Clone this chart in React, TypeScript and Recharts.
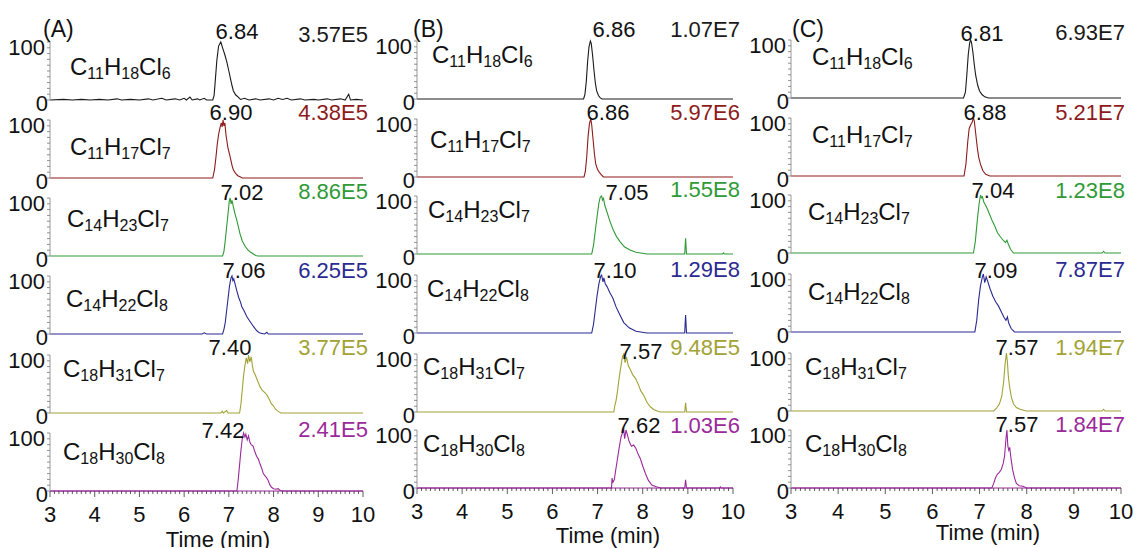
import React from 'react'
import { LineChart, Line, XAxis, YAxis } from 'recharts'

// traces: [time (min), relative abundance %]
const A1 = [[3,0],[3.3,1],[3.5,0],[3.7,1],[3.9,0],[4.1,1],[4.3,0],[4.5,2],[4.6,0],[4.8,1],[5.0,0],[5.2,2],[5.3,0],[5.5,3],[5.6,0],[5.8,2],[5.9,0],[6.0,3],[6.05,0],[6.13,5],[6.18,0],[6.3,2],[6.35,0],[6.45,3],[6.5,0],[6.64,0],[6.67,8],[6.69,27],[6.73,67],[6.77,93],[6.82,100],[6.86,90],[6.91,78],[6.95,67],[7.0,50],[7.03,39],[7.07,25],[7.1,16],[7.15,9],[7.21,5],[7.26,1],[7.35,3],[7.45,0],[7.6,2],[7.7,0],[7.9,2],[8.0,0],[8.1,3],[8.2,1],[8.3,3],[8.4,0],[8.6,2],[8.7,0],[8.9,1],[9.0,0],[9.2,2],[9.3,0],[9.5,2],[9.6,0],[9.68,10],[9.72,0],[9.85,1],[10,0]]
const A2 = [[3,0],[6.64,0],[6.68,15],[6.71,35],[6.74,58],[6.77,75],[6.8,86],[6.83,95],[6.85,88],[6.87,100],[6.89,90],[6.91,95],[6.94,72],[6.98,52],[7.03,36],[7.07,22],[7.1,14],[7.15,8],[7.2,4],[7.25,2],[7.3,0],[10,0]]
const A3 = [[3,0],[6.86,0],[6.89,8],[6.92,27],[6.95,50],[6.98,72],[7.01,95],[7.03,100],[7.05,90],[7.07,96],[7.1,85],[7.14,72],[7.18,61],[7.22,48],[7.25,38],[7.3,26],[7.37,16],[7.43,10],[7.48,7],[7.54,4],[7.6,1],[7.65,0],[10,0]]
const A4 = [[3,0],[6.4,0],[6.45,2],[6.5,0],[6.86,0],[6.89,8],[6.92,20],[6.95,40],[6.98,60],[7.01,80],[7.03,90],[7.05,97],[7.07,100],[7.09,92],[7.11,95],[7.14,86],[7.18,74],[7.22,63],[7.26,55],[7.29,47],[7.34,40],[7.4,30],[7.47,22],[7.55,13],[7.62,6],[7.68,2],[7.74,1],[7.8,0],[7.85,3],[7.88,0],[10,0]]
const A5 = [[3,0],[6.82,0],[6.85,3],[6.88,0],[6.95,4],[6.98,0],[7.24,0],[7.27,15],[7.3,40],[7.33,65],[7.36,82],[7.39,95],[7.42,85],[7.44,100],[7.47,88],[7.5,97],[7.53,80],[7.55,72],[7.59,66],[7.62,60],[7.66,52],[7.7,45],[7.74,40],[7.78,37],[7.82,34],[7.86,30],[7.9,24],[7.95,16],[8.0,12],[8.04,7],[8.08,4],[8.12,2],[8.16,0],[10,0]]
const A6 = [[3,0],[7.18,0],[7.21,20],[7.24,45],[7.27,70],[7.3,90],[7.33,100],[7.36,93],[7.38,98],[7.41,88],[7.44,95],[7.47,84],[7.5,80],[7.54,78],[7.58,68],[7.62,60],[7.66,55],[7.7,46],[7.74,38],[7.77,30],[7.81,26],[7.85,22],[7.88,18],[7.92,10],[7.96,6],[8.0,4],[8.05,3],[8.1,4],[8.15,1],[8.2,0],[10,0]]

const B1 = [[3,0],[6.69,0],[6.72,8],[6.75,30],[6.78,65],[6.81,90],[6.84,100],[6.86,96],[6.89,75],[6.92,50],[6.95,28],[6.98,14],[7.02,6],[7.06,2],[7.1,0],[10,0]]
const B2 = [[3,0],[6.7,0],[6.73,10],[6.76,35],[6.79,70],[6.82,92],[6.85,100],[6.87,90],[6.9,65],[6.93,40],[6.96,22],[7.0,13],[7.04,8],[7.08,4],[7.13,0],[10,0]]
const B3 = [[3,0],[6.87,0],[6.91,15],[6.95,40],[6.99,65],[7.03,88],[7.06,98],[7.09,100],[7.11,93],[7.13,96],[7.16,84],[7.21,72],[7.28,55],[7.35,41],[7.42,30],[7.5,21],[7.6,12],[7.72,7],[7.85,3],[8.02,1],[8.1,0],[8.93,0],[8.95,27],[8.97,0],[9.77,0],[9.79,2],[9.81,0],[10,0]]
const B4 = [[3,0],[6.87,0],[6.91,15],[6.95,40],[6.99,65],[7.03,85],[7.07,98],[7.09,100],[7.12,88],[7.14,95],[7.17,85],[7.21,80],[7.27,70],[7.34,60],[7.41,45],[7.49,32],[7.58,18],[7.7,9],[7.85,3],[8.02,1],[8.1,0],[8.93,0],[8.95,31],[8.97,0],[10,0]]
const B5 = [[3,0],[7.36,0],[7.38,10],[7.41,20],[7.44,35],[7.48,60],[7.52,80],[7.55,95],[7.58,100],[7.61,85],[7.64,95],[7.68,80],[7.72,74],[7.78,64],[7.84,58],[7.9,48],[7.96,36],[8.02,29],[8.1,16],[8.17,9],[8.25,4],[8.35,1],[8.4,0],[8.93,0],[8.95,16],[8.97,0],[10,0]]
const B6 = [[3,0],[7.31,0],[7.32,17],[7.34,10],[7.37,14],[7.4,30],[7.44,50],[7.48,70],[7.52,88],[7.55,95],[7.58,100],[7.6,85],[7.63,100],[7.66,92],[7.7,80],[7.75,72],[7.8,74],[7.85,68],[7.9,58],[7.95,50],[8.0,38],[8.06,25],[8.12,14],[8.2,5],[8.3,2],[8.4,0],[8.93,0],[8.95,14],[8.97,0],[9.7,0],[9.72,2],[9.74,0],[10,0]]

const C1 = [[3,0],[6.66,0],[6.7,10],[6.73,40],[6.76,75],[6.79,95],[6.81,100],[6.83,95],[6.86,78],[6.89,56],[6.92,38],[6.96,22],[7.0,12],[7.05,6],[7.11,2],[7.19,0],[10,0]]
const C2 = [[3,0],[6.67,0],[6.71,20],[6.75,60],[6.78,82],[6.81,88],[6.84,92],[6.87,100],[6.89,94],[6.92,72],[6.95,50],[6.98,33],[7.02,20],[7.07,9],[7.13,3],[7.22,0],[10,0]]
const C3 = [[3,0],[6.87,0],[6.91,20],[6.95,55],[6.99,85],[7.02,100],[7.04,95],[7.06,97],[7.09,88],[7.13,82],[7.17,75],[7.22,65],[7.27,55],[7.32,47],[7.38,35],[7.44,28],[7.5,22],[7.55,18],[7.58,22],[7.61,15],[7.66,6],[7.72,0],[9.6,0],[9.63,3],[9.66,0],[10,0]]
const C4 = [[3,0],[6.9,0],[6.94,20],[6.98,55],[7.02,80],[7.06,95],[7.08,100],[7.11,85],[7.14,95],[7.17,88],[7.22,75],[7.28,62],[7.34,52],[7.4,45],[7.46,35],[7.52,25],[7.56,20],[7.59,26],[7.62,15],[7.67,6],[7.74,0],[10,0]]
const C5 = [[3,0],[7.3,0],[7.36,5],[7.42,12],[7.47,25],[7.51,50],[7.54,80],[7.57,100],[7.59,85],[7.61,60],[7.64,40],[7.68,22],[7.72,12],[7.78,6],[7.86,3],[7.95,1],[8.0,0],[9.6,0],[9.63,3],[9.66,0],[10,0]]
const C6 = [[3,0],[7.26,0],[7.3,8],[7.34,18],[7.38,24],[7.42,27],[7.46,32],[7.5,42],[7.53,55],[7.56,85],[7.58,100],[7.6,72],[7.62,65],[7.64,70],[7.66,55],[7.7,32],[7.74,18],[7.78,8],[7.84,4],[7.92,3],[8.0,0],[10,0]]

const FORMULAS = [
  ['C','11','H','18','Cl','6'],
  ['C','11','H','17','Cl','7'],
  ['C','14','H','23','Cl','7'],
  ['C','14','H','22','Cl','8'],
  ['C','18','H','31','Cl','7'],
  ['C','18','H','30','Cl','8'],
]
const RT_A = ['6.84','6.90','7.02','7.06','7.40','7.42']
const RT_B = ['6.86','6.86','7.05','7.10','7.57','7.62']
const RT_C = ['6.81','6.88','7.04','7.09','7.57','7.57']
const INT_A = ['3.57E5','4.38E5','8.86E5','6.25E5','3.77E5','2.41E5']
const INT_B = ['1.07E7','5.97E6','1.55E8','1.29E8','9.48E5','1.03E6']
const INT_C = ['6.93E7','5.21E7','1.23E8','7.87E7','1.94E7','1.84E7']
const X_TICKS = [3,4,5,6,7,8,9,10]
const Y_TICKS = [0,10,20,30,40,50,60,70,80,90,100]
const X_TITLE = 'Time (min)'

const COLORS = ['#1a1a1a','#8e1b1b','#2f9a36','#2a2a92','#a2a236','#9a2a9a']
const FONT = '"Liberation Sans", Arial, sans-serif'
const H = 58

// minor ticks every 0.1 min
const X_MINOR = Array.from({length:71},(_,i)=>Math.round((3+i*0.1)*10)/10)

const PANELS = [
  { label:'(A)', lx:43, x0:50, x1:363, base:[100,178,256,334,413,491], traces:[A1,A2,A3,A4,A5,A6], rt:RT_A, inten:INT_A,
    fpos:[[70,75],[70,155],[67,227],[66,307],[63,377],[63,460]],
    rpos:[[237,39],[231,120],[242,200],[244,278],[230,355],[223,438]],
    ix:368, iy:[42,120,199,278,355,437], tx:218, ty:547, ly:522 },
  { label:'(B)', lx:413, x0:417, x1:733, base:[99,177,254,333,412,488], traces:[B1,B2,B3,B4,B5,B6], rt:RT_B, inten:INT_B,
    fpos:[[432,63],[430,148],[428,218],[427,297],[423,375],[423,452]],
    rpos:[[614,37],[608,120],[627,200],[615,278],[641,359],[639,433]],
    ix:740, iy:[37,120,197,277,355,433], tx:608, ty:543, ly:520 },
  { label:'(C)', lx:792, x0:791, x1:1121, base:[98,176,253,332,411,488], traces:[C1,C2,C3,C4,C5,C6], rt:RT_C, inten:INT_C,
    fpos:[[812,65],[812,143],[808,220],[808,300],[805,375],[805,452]],
    rpos:[[982,41],[985,120],[993,198],[996,278],[1017,355],[1017,432]],
    ix:1125, iy:[40,120,198,277,355,432], tx:988, ty:540, ly:518 },
]

const YTick = (p:any) => {
  const { x, y, payload } = p
  const v = payload.value
  return (
    <g>
      <line x1={x-3} x2={x} y1={y} y2={y} stroke="#777" strokeWidth={0.8}/>
      {v===100 && <text x={x-5} y={y+13} textAnchor="end" fontSize={22} fontFamily={FONT} fill="#111">100</text>}
      {v===0 && <text x={x-2} y={y+11} textAnchor="end" fontSize={22} fontFamily={FONT} fill="#111">0</text>}
    </g>
  )
}

const XTick = (p:any) => {
  const { x, y, payload } = p
  const v = payload.value
  const major = X_TICKS.includes(v)
  return (
    <g>
      <line x1={x} x2={x} y1={y} y2={y+(major?6:3)} stroke="#333" strokeWidth={0.8}/>
      {major && <text x={x} y={y+31} textAnchor="middle" fontSize={22} fontFamily={FONT} fill="#111">{v}</text>}
    </g>
  )
}

function Cell({ pts, color, x0, x1, base, bottom }: any) {
  const L = 40, T = 6, R = 8
  const data = pts.map(([t,y]:number[])=>({t,y}))
  const xh = bottom ? 40 : 0
  return (
    <div style={{position:'absolute', left:x0-L, top:base-H-T}}>
      <LineChart width={L+(x1-x0)+R} height={T+H+xh} data={data} margin={{top:T,right:R,left:0,bottom:0}}>
        {bottom
          ? <XAxis type="number" dataKey="t" domain={[3,10]} ticks={X_MINOR} interval={0} tick={<XTick/>} tickSize={0} tickMargin={0} tickLine={false} height={xh} axisLine={{stroke:color}}/>
          : <XAxis type="number" dataKey="t" domain={[3,10]} tick={false} tickLine={false} height={0} axisLine={{stroke:color}}/>}
        <YAxis type="number" domain={[0,100]} ticks={Y_TICKS} interval={0} width={L} tick={<YTick/>} tickSize={0} tickMargin={0} tickLine={false} axisLine={{stroke:'#999'}}/>
        <Line type="linear" dataKey="y" stroke={color} strokeWidth={1.1} dot={false} isAnimationActive={false}/>
      </LineChart>
    </div>
  )
}

function Formula({ f, x, y }: any) {
  return (
    <text x={x} y={y} fontSize={24} fontFamily={FONT} fill="#111">
      {f[0]}<tspan fontSize={16} dy={4}>{f[1]}</tspan>
      <tspan dy={-4}>{f[2]}</tspan><tspan fontSize={16} dy={4}>{f[3]}</tspan>
      <tspan dy={-4}>{f[4]}</tspan><tspan fontSize={16} dy={4}>{f[5]}</tspan>
    </text>
  )
}

export default function App() {
  return (
    <div style={{position:'absolute', left:0, top:0, width:1138, height:548, background:'#fff', overflow:'hidden'}}>
      <style>{'.recharts-surface{overflow:visible}'}</style>
      {PANELS.map((p,pi)=>p.traces.map((tr,ri)=>(
        <Cell key={pi+'-'+ri} pts={tr} color={COLORS[ri]} x0={p.x0} x1={p.x1} base={p.base[ri]} bottom={ri===5}/>
      )))}
      <svg width={1138} height={548} style={{position:'absolute', left:0, top:0, pointerEvents:'none'}}>
        {PANELS.map((p,pi)=>(
          <g key={pi} fontFamily={FONT}>
            <text x={p.lx} y={37} fontSize={23} fill="#111">{p.label}</text>
            {FORMULAS.map((f,ri)=><Formula key={ri} f={f} x={p.fpos[ri][0]} y={p.fpos[ri][1]}/>)}
            {p.rt.map((r,ri)=><text key={'r'+ri} x={p.rpos[ri][0]} y={p.rpos[ri][1]} fontSize={22} textAnchor="middle" fill="#111">{r}</text>)}
            {p.inten.map((s,ri)=><text key={'i'+ri} x={p.ix} y={p.iy[ri]} fontSize={22} textAnchor="end" fill={COLORS[ri]}>{s}</text>)}
            <text x={p.tx} y={p.ty} fontSize={22} textAnchor="middle" fill="#111">{X_TITLE}</text>
          </g>
        ))}
      </svg>
    </div>
  )
}
